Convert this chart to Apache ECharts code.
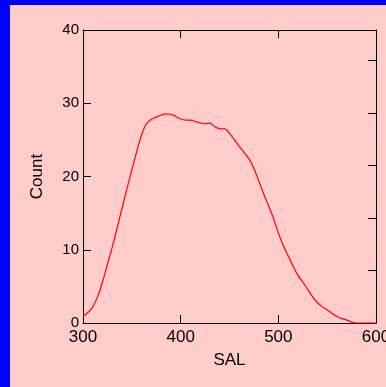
<!DOCTYPE html>
<html>
<head>
<meta charset="utf-8">
<script src="https://cdn.jsdelivr.net/npm/echarts@6/dist/echarts.min.js"></script>
<style>
  html, body { margin: 0; padding: 0; background: #0000FF; width: 386px; height: 387px; overflow: hidden; }
  #chart { position: absolute; left: 10px; top: 5px; width: 376px; height: 382px; }
</style>
</head>
<body>
<div id="chart"></div>
<script>
// SAL values (x) and frequency curve (Count)
const sal = [300,305,310,315,320,325,330,335,340,345,350,355,360,365,370,375,380,385,390,395,
             400,405,410,415,420,425,430,435,440,445,450,455,460,465,470,475,480,485,490,495,
             500,505,510,515,520,525,530,535,540,545,550,555,560,565,570,575,580,585,590,595,600];
const count = [0.9,1.4,2.2,3.6,5.6,8.0,10.4,13.0,15.7,18.3,20.9,23.4,25.7,27.2,27.8,28.1,28.4,28.55,28.5,28.2,
               27.85,27.7,27.7,27.5,27.3,27.2,27.3,26.8,26.5,26.5,25.9,25.0,24.1,23.3,22.4,21.1,19.4,17.6,16.0,14.3,
               12.3,10.6,9.2,7.8,6.5,5.6,4.6,3.6,2.8,2.2,1.8,1.3,0.9,0.6,0.4,0.15,0,0,0,0,0];
const xTicks = [300, 400, 500, 600];
const yTicks = [0, 10, 20, 30, 40];

const chart = echarts.init(document.getElementById('chart'));
const font = 'Liberation Sans, Arial, sans-serif';
const axisLine = { show: true, onZero: false, lineStyle: { color: '#000', width: 1 } };
const tickIn = { show: true, inside: true, length: 8, lineStyle: { color: '#000', width: 1 } };

chart.setOption({
  backgroundColor: '#FFCCCC',
  animation: false,
  grid: { left: 73, top: 25, width: 293, height: 293, containLabel: false, outerBoundsMode: 'none' },
  xAxis: [{
    type: 'value', min: xTicks[0], max: xTicks[xTicks.length - 1], interval: 100,
    position: 'bottom',
    name: 'SAL', nameLocation: 'middle', nameGap: 29,
    nameTextStyle: { fontFamily: font, fontSize: 17, color: '#000' },
    axisLine: axisLine, axisTick: tickIn,
    axisLabel: { show: true, margin: 6, fontFamily: font, fontSize: 17, color: '#000',
                 showMinLabel: true, showMaxLabel: true, hideOverlap: false },
    splitLine: { show: false }
  }, {
    type: 'value', min: xTicks[0], max: xTicks[xTicks.length - 1], interval: 100,
    position: 'top',
    axisLine: axisLine, axisTick: tickIn,
    axisLabel: { show: false }, splitLine: { show: false }
  }],
  yAxis: [{
    type: 'value', min: yTicks[0], max: yTicks[yTicks.length - 1], interval: 10,
    position: 'left',
    name: 'Count', nameLocation: 'middle', nameGap: 37,
    nameTextStyle: { fontFamily: font, fontSize: 17, color: '#000' },
    axisLine: axisLine, axisTick: tickIn,
    axisLabel: { show: true, margin: 4, fontFamily: font, fontSize: 15, color: '#000',
                 showMinLabel: true, showMaxLabel: true, hideOverlap: false },
    splitLine: { show: false }
  }, {
    type: 'value', min: 0, max: 5.58, interval: 1,
    position: 'right',
    axisLine: axisLine, axisTick: tickIn,
    axisLabel: { show: false }, splitLine: { show: false }
  }],
  series: [{
    type: 'line',
    xAxisIndex: 0, yAxisIndex: 0,
    data: sal.map((s, i) => [s, count[i]]),
    showSymbol: false,
    smooth: 0.3,
    lineStyle: { color: '#FF0000', width: 1.2 },
    clip: false
  }]
});
</script>
</body>
</html>
